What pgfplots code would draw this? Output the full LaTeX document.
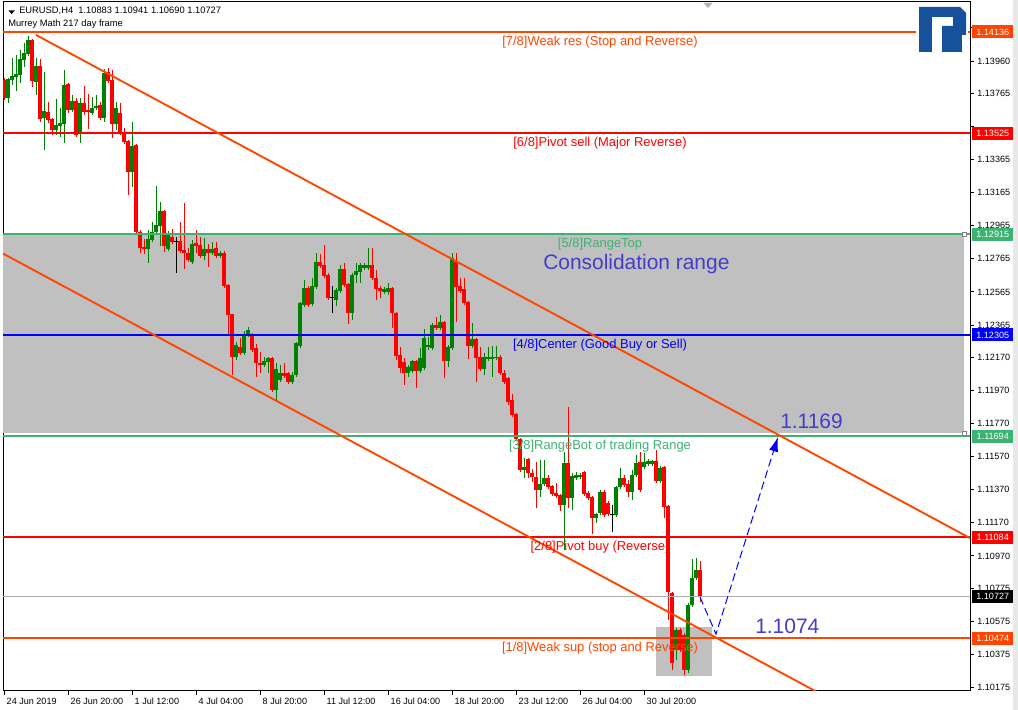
\documentclass[border=0pt]{standalone}
\usepackage{pgfplots}
\usepackage{pgfplotstable}
\pgfplotsset{compat=1.18}
\usepackage{fontspec}
\setmainfont{Liberation Sans}
\usetikzlibrary{arrows.meta}

\definecolor{orr}{RGB}{255,69,0}
\definecolor{mred}{RGB}{255,0,0}
\definecolor{mgreen}{RGB}{60,179,113}
\definecolor{mblue}{RGB}{0,0,255}
\definecolor{bull}{RGB}{0,128,0}
\definecolor{rng}{RGB}{192,192,192}
\definecolor{note}{RGB}{70,60,200}
\definecolor{logo}{RGB}{22,82,155}

\pgfplotstableread{
x o h l c k
0 1.13846 1.13858 1.13725 1.13737 -1
1 1.13737 1.13858 1.13707 1.13852 1
2 1.13846 1.13979 1.13816 1.13870 1
3 1.13864 1.13997 1.13780 1.13882 1
4 1.13876 1.14027 1.13828 1.13973 1
5 1.13967 1.14070 1.13925 1.14009 1
6 1.14003 1.14112 1.13991 1.14088 1
7 1.14088 1.14094 1.13804 1.13840 -1
8 1.13834 1.13979 1.13755 1.13931 1
9 1.13931 1.13973 1.13592 1.13610 -1
10 1.13616 1.13894 1.13423 1.13659 1
11 1.13653 1.13713 1.13586 1.13604 -1
12 1.13610 1.13616 1.13514 1.13544 -1
13 1.13544 1.13731 1.13514 1.13574 1
14 1.13568 1.13677 1.13502 1.13586 1
15 1.13580 1.13906 1.13465 1.13816 1
16 1.13822 1.13828 1.13647 1.13665 -1
17 1.13665 1.13755 1.13653 1.13719 1
18 1.13719 1.13737 1.13502 1.13514 -1
19 1.13526 1.13737 1.13465 1.13707 1
20 1.13707 1.13810 1.13634 1.13653 -1
21 1.13665 1.13761 1.13550 1.13653 -1
22 1.13647 1.13743 1.13634 1.13677 1
23 1.13677 1.13755 1.13665 1.13689 1
24 1.13695 1.13713 1.13604 1.13616 -1
25 1.13616 1.13912 1.13592 1.13888 1
26 1.13894 1.13919 1.13828 1.13840 -1
27 1.13846 1.13906 1.13496 1.13580 -1
28 1.13580 1.13713 1.13544 1.13677 1
29 1.13647 1.13707 1.13514 1.13526 -1
30 1.13526 1.13556 1.13459 1.13471 -1
31 1.13477 1.13483 1.13151 1.13290 -1
32 1.13290 1.13592 1.13199 1.13447 1
33 1.13453 1.13459 1.12915 1.12927 -1
34 1.12927 1.12940 1.12800 1.12831 -1
35 1.12837 1.12885 1.12794 1.12825 -1
36 1.12825 1.12940 1.12740 1.12885 1
37 1.12879 1.12988 1.12867 1.12927 1
38 1.12927 1.13205 1.12915 1.12970 1
39 1.12964 1.13109 1.12843 1.13054 1
40 1.13054 1.13060 1.12807 1.12843 -1
41 1.12825 1.12934 1.12813 1.12915 1
42 1.12897 1.12946 1.12855 1.12867 -1
43 1.12873 1.12897 1.12680 1.12867 0
44 1.12873 1.12988 1.12800 1.12813 -1
45 1.12819 1.13103 1.12704 1.12800 -1
46 1.12800 1.12831 1.12746 1.12758 -1
47 1.12746 1.12879 1.12734 1.12855 1
48 1.12861 1.12940 1.12800 1.12843 -1
49 1.12849 1.12897 1.12770 1.12782 -1
50 1.12782 1.12891 1.12758 1.12825 1
51 1.12825 1.12855 1.12716 1.12800 -1
52 1.12800 1.12867 1.12788 1.12825 1
53 1.12831 1.12867 1.12770 1.12782 -1
54 1.12782 1.12813 1.12770 1.12800 1
55 1.12800 1.12813 1.12589 1.12601 -1
56 1.12607 1.12613 1.12311 1.12426 -1
57 1.12432 1.12432 1.12063 1.12172 -1
58 1.12172 1.12263 1.12154 1.12245 1
59 1.12233 1.12287 1.12184 1.12196 -1
60 1.12196 1.12329 1.12184 1.12305 1
61 1.12305 1.12353 1.12293 1.12335 1
62 1.12305 1.12317 1.12202 1.12214 -1
63 1.12226 1.12251 1.12051 1.12136 -1
64 1.12136 1.12202 1.12075 1.12124 -1
65 1.12124 1.12172 1.12112 1.12148 1
66 1.12142 1.12172 1.12075 1.12166 1
67 1.12166 1.12172 1.11961 1.11973 -1
68 1.11973 1.12136 1.11912 1.12100 1
69 1.12033 1.12124 1.12021 1.12075 1
70 1.12075 1.12136 1.12045 1.12057 -1
71 1.12075 1.12081 1.12009 1.12021 -1
72 1.12021 1.12081 1.12009 1.12063 1
73 1.12063 1.12263 1.12051 1.12257 1
74 1.12239 1.12504 1.12226 1.12498 1
75 1.12486 1.12637 1.12474 1.12589 1
76 1.12589 1.12601 1.12474 1.12486 -1
77 1.12492 1.12649 1.12480 1.12601 1
78 1.12595 1.12800 1.12583 1.12746 1
79 1.12746 1.12794 1.12710 1.12722 -1
80 1.12728 1.12849 1.12649 1.12662 -1
81 1.12668 1.12680 1.12517 1.12529 -1
82 1.12535 1.12601 1.12438 1.12529 0
83 1.12517 1.12589 1.12480 1.12577 1
84 1.12571 1.12728 1.12559 1.12704 1
85 1.12704 1.12740 1.12595 1.12607 -1
86 1.12613 1.12619 1.12372 1.12438 -1
87 1.12438 1.12680 1.12396 1.12668 1
88 1.12668 1.12740 1.12619 1.12692 1
89 1.12686 1.12740 1.12619 1.12728 1
90 1.12710 1.12740 1.12698 1.12728 1
91 1.12710 1.12831 1.12698 1.12728 1
92 1.12728 1.12831 1.12637 1.12649 -1
93 1.12649 1.12698 1.12517 1.12583 -1
94 1.12589 1.12601 1.12529 1.12571 -1
95 1.12565 1.12595 1.12553 1.12583 1
96 1.12565 1.12619 1.12547 1.12589 1
97 1.12589 1.12595 1.12347 1.12438 -1
98 1.12438 1.12444 1.12154 1.12178 -1
99 1.12184 1.12233 1.12075 1.12106 -1
100 1.12142 1.12166 1.12003 1.12075 -1
101 1.12075 1.12124 1.12051 1.12112 1
102 1.12087 1.12154 1.12075 1.12148 1
103 1.12148 1.12154 1.11985 1.12087 -1
104 1.12087 1.12226 1.12075 1.12166 1
105 1.12106 1.12341 1.12094 1.12287 1
106 1.12233 1.12293 1.12214 1.12245 1
107 1.12226 1.12378 1.12214 1.12365 1
108 1.12365 1.12414 1.12335 1.12347 -1
109 1.12347 1.12426 1.12335 1.12384 1
110 1.12384 1.12390 1.12045 1.12148 -1
111 1.12148 1.12245 1.12112 1.12233 1
112 1.12226 1.12800 1.12214 1.12770 1
113 1.12746 1.12800 1.12384 1.12595 -1
114 1.12601 1.12649 1.12559 1.12571 -1
115 1.12583 1.12649 1.12486 1.12498 -1
116 1.12504 1.12510 1.12160 1.12239 -1
117 1.12239 1.12378 1.12226 1.12281 1
118 1.12281 1.12287 1.12021 1.12166 -1
119 1.12172 1.12233 1.12087 1.12100 -1
120 1.12100 1.12196 1.12063 1.12172 1
121 1.12160 1.12233 1.12148 1.12172 1
122 1.12160 1.12239 1.12051 1.12172 1
123 1.12166 1.12239 1.12154 1.12172 1
124 1.12172 1.12184 1.12063 1.12075 -1
125 1.12075 1.12094 1.12009 1.12021 -1
126 1.12045 1.12051 1.11882 1.11900 -1
127 1.11912 1.11948 1.11810 1.11822 -1
128 1.11828 1.11834 1.11664 1.11677 -1
129 1.11677 1.11683 1.11477 1.11489 -1
130 1.11489 1.11562 1.11441 1.11507 1
131 1.11556 1.11562 1.11441 1.11471 -1
132 1.11471 1.11495 1.11417 1.11447 -1
133 1.11447 1.11538 1.11260 1.11368 -1
134 1.11368 1.11550 1.11326 1.11405 1
135 1.11405 1.11550 1.11392 1.11441 1
136 1.11441 1.11459 1.11374 1.11386 -1
137 1.11392 1.11399 1.11332 1.11344 -1
138 1.11350 1.11411 1.11320 1.11332 -1
139 1.11338 1.11344 1.11241 1.11278 -1
140 1.11278 1.11598 1.11006 1.11532 1
141 1.11532 1.11870 1.11260 1.11320 -1
142 1.11320 1.11471 1.11248 1.11453 1
143 1.11441 1.11477 1.11429 1.11459 1
144 1.11447 1.11471 1.11435 1.11459 1
145 1.11477 1.11483 1.11332 1.11344 -1
146 1.11350 1.11362 1.11308 1.11320 -1
147 1.11326 1.11332 1.11102 1.11199 -1
148 1.11199 1.11229 1.11169 1.11223 1
149 1.11229 1.11368 1.11217 1.11356 1
150 1.11356 1.11368 1.11205 1.11217 -1
151 1.11290 1.11302 1.11211 1.11223 -1
152 1.11223 1.11278 1.11115 1.11217 0
153 1.11217 1.11392 1.11205 1.11386 1
154 1.11386 1.11501 1.11374 1.11441 1
155 1.11441 1.11459 1.11386 1.11399 -1
156 1.11405 1.11429 1.11326 1.11356 -1
157 1.11356 1.11489 1.11308 1.11459 1
158 1.11459 1.11580 1.11447 1.11532 1
159 1.11538 1.11598 1.11356 1.11368 -1
160 1.11507 1.11592 1.11495 1.11538 1
161 1.11525 1.11556 1.11513 1.11544 1
162 1.11525 1.11550 1.11513 1.11544 1
163 1.11544 1.11610 1.11411 1.11423 -1
164 1.11423 1.11513 1.11411 1.11501 1
165 1.11507 1.11513 1.11199 1.11266 -1
166 1.11272 1.11278 1.10583 1.10752 -1
167 1.10746 1.10752 1.10281 1.10323 -1
168 1.10402 1.10534 1.10341 1.10522 1
169 1.10522 1.10534 1.10389 1.10402 -1
170 1.10492 1.10504 1.10250 1.10281 -1
171 1.10281 1.10685 1.10262 1.10673 1
172 1.10673 1.10951 1.10661 1.10836 1
173 1.10836 1.10958 1.10824 1.10885 1
174 1.10883 1.10941 1.10690 1.10727 -1
}\candles

\pgfplotsset{
  candle/.style 2 args={draw=none, mark=none, forget plot,
    restrict y to domain=1:2,
    error bars/.cd, y dir=plus, y explicit, error mark=none,
    error bar style={draw=#1, solid, line width=#2, line cap=butt}},
}

\newcommand{\lvltext}[3]{\node[anchor=base, text=#1, font=\fontsize{9.7}{11}\selectfont, inner sep=0pt] at ([yshift=-10.2pt]axis cs:149,#2) {#3};}

\begin{document}
\begin{tikzpicture}
\begin{axis}[
  name=ax,
  scale only axis,
  width=725.25pt, height=516.75pt,
  xmin=-0.25, xmax=241.5, ymin=1.10154, ymax=1.14317,
  axis line style={black, line width=0.75pt},
  xtick={0,16,32,48,64,80,96,112,128,144,160},
  xticklabels={24 Jun 2019, 26 Jun 20:00, 1 Jul 12:00, 4 Jul 04:00, 8 Jul 20:00, 11 Jul 12:00, 16 Jul 04:00, 18 Jul 20:00, 23 Jul 12:00, 26 Jul 04:00, 30 Jul 20:00},
  ytick={1.14165,1.13960,1.13765,1.13565,1.13365,1.13165,1.12965,1.12765,1.12565,1.12365,1.12170,1.11970,1.11770,1.11570,1.11370,1.11170,1.10970,1.10775,1.10575,1.10375,1.10175},
  yticklabels={{},1.13960,1.13765,{},1.13365,1.13165,1.12965,1.12765,1.12565,1.12365,1.12170,1.11970,1.11770,1.11570,1.11370,1.11170,1.10970,1.10775,1.10575,1.10375,1.10175},
  xtick pos=bottom, ytick pos=right, yticklabel pos=right,
  tick align=outside,
  major tick length=3pt,
  tick style={black, line width=0.75pt},
  ticklabel style={font=\fontsize{6.8}{8}\selectfont},
  xticklabel style={anchor=north west, xshift=-1.5pt, yshift=1pt},
  yticklabel style={anchor=west, xshift=-1pt},
  clip=true,
]
% background rectangles
\fill[rng] (axis cs:-1,1.11713) rectangle (axis cs:240,1.12915);
\fill[rng] (axis cs:163,1.10244) rectangle (axis cs:177,1.10540);

% candles: wicks
\addplot[candle={bull}{0.75pt}] table[x=x, y expr={\thisrow{k}>0 ? \thisrow{l} : 0}, y error plus expr={\thisrow{h}-\thisrow{l}}]{\candles};
\addplot[candle={mred}{0.75pt}] table[x=x, y expr={\thisrow{k}<0 ? \thisrow{l} : 0}, y error plus expr={\thisrow{h}-\thisrow{l}}]{\candles};
\addplot[candle={black}{0.75pt}] table[x=x, y expr={\thisrow{k}==0 ? \thisrow{l} : 0}, y error plus expr={\thisrow{h}-\thisrow{l}}]{\candles};
% candles: bodies
\addplot[candle={bull}{2.4pt}] table[x=x, y expr={\thisrow{k}>0 ? \thisrow{o} : 0}, y error plus expr={\thisrow{c}-\thisrow{o}}]{\candles};
\addplot[candle={mred}{2.4pt}] table[x=x, y expr={\thisrow{k}<0 ? \thisrow{c} : 0}, y error plus expr={\thisrow{o}-\thisrow{c}}]{\candles};
\addplot[candle={black}{2.4pt}] table[x=x, y expr={\thisrow{k}==0 ? \thisrow{c} : 0}, y error plus expr={\thisrow{o}-\thisrow{c}}]{\candles};

% current price line
\addplot[rng!90!black, line width=0.6pt, forget plot] coordinates {(-1,1.10727) (243,1.10727)};
% Murrey levels
\addplot[orr, line width=1.5pt, forget plot] coordinates {(-1,1.14136) (243,1.14136)};
\addplot[mred, line width=1.5pt, forget plot] coordinates {(-1,1.13525) (243,1.13525)};
\addplot[mgreen, line width=1.5pt, forget plot] coordinates {(-1,1.12915) (243,1.12915)};
\addplot[mblue, line width=1.5pt, forget plot] coordinates {(-1,1.12305) (243,1.12305)};
\addplot[mgreen, line width=1.5pt, forget plot] coordinates {(-1,1.11694) (243,1.11694)};
\addplot[mred, line width=1.5pt, forget plot] coordinates {(-1,1.11084) (243,1.11084)};
\addplot[orr, line width=1.5pt, forget plot] coordinates {(-1,1.10474) (243,1.10474)};
% channel
\addplot[orr, line width=1.4pt, forget plot] coordinates {(8,1.14118) (241.5,1.11078)};
\addplot[orr, line width=1.4pt, forget plot] coordinates {(-0.25,1.12797) (241.5,1.09650)};

% level texts
\lvltext{orr}{1.14136}{[7/8]Weak res (Stop and Reverse)}
\lvltext{mred}{1.13525}{[6/8]Pivot sell (Major Reverse)}
\lvltext{mgreen}{1.12915}{[5/8]RangeTop}
\lvltext{mblue}{1.12305}{[4/8]Center (Good Buy or Sell)}
\lvltext{mgreen}{1.11694}{[3/8]RangeBot of trading Range}
\lvltext{mred}{1.11084}{[2/8]Pivot buy (Reverse)}
\lvltext{orr}{1.10474}{[1/8]Weak sup (stop and Reverse)}

% annotations
\node[anchor=base west, text=note, font=\fontsize{15.7}{18}\selectfont, inner sep=0pt] at (axis cs:134.75,1.12698) {Consolidation range};
\node[anchor=base west, text=note, font=\fontsize{15.7}{18}\selectfont, inner sep=0pt] at (axis cs:194,1.11743) {1.1169};
\node[anchor=base west, text=note, font=\fontsize{15.7}{18}\selectfont, inner sep=0pt] at (axis cs:187.75,1.10504) {1.1074};

% forecast arrow
\draw[mblue, line width=0.75pt, dash pattern=on 6pt off 3pt, -{Latex[length=11pt, width=7pt]}]
  (axis cs:174,1.10722) -- (axis cs:178,1.10498) -- (axis cs:193.5,1.11689);

% rectangle handles
\draw[gray, fill=white, line width=0.4pt] ([xshift=-1.5pt,yshift=-1.5pt]axis cs:240,1.12915) rectangle ++(3pt,3pt);
\draw[gray, fill=white, line width=0.4pt] ([xshift=-1.5pt,yshift=-1.5pt]axis cs:240,1.11713) rectangle ++(3pt,3pt);

% coordinates for price boxes
\coordinate (B1) at (axis cs:241.5,1.14136);
\coordinate (B2) at (axis cs:241.5,1.13525);
\coordinate (B3) at (axis cs:241.5,1.12915);
\coordinate (B4) at (axis cs:241.5,1.12305);
\coordinate (B5) at (axis cs:241.5,1.11694);
\coordinate (B6) at (axis cs:241.5,1.11084);
\coordinate (B7) at (axis cs:241.5,1.10727);
\coordinate (B8) at (axis cs:241.5,1.10474);
\coordinate (TRI) at (axis cs:176,1.14317);
\end{axis}

% price boxes on the right scale
\tikzset{pbox/.style={anchor=west, fill=#1, text=white, inner sep=0pt, minimum width=30.75pt, minimum height=9.75pt, font=\fontsize{6.8}{8}\selectfont}}
\node[pbox=orr] at ([xshift=1.5pt]B1) {1.14136};
\node[pbox=mred] at ([xshift=1.5pt]B2) {1.13525};
\node[pbox=mgreen] at ([xshift=1.5pt]B3) {1.12915};
\node[pbox=mblue] at ([xshift=1.5pt]B4) {1.12305};
\node[pbox=mgreen] at ([xshift=1.5pt]B5) {1.11694};
\node[pbox=mred] at ([xshift=1.5pt]B6) {1.11084};
\node[pbox=black] at ([xshift=1.5pt]B7) {1.10727};
\node[pbox=orr] at ([xshift=1.5pt]B8) {1.10474};

% top shift marker
\fill[gray!60] ([xshift=-3.5pt,yshift=-0.6pt]TRI) -- ([xshift=3.5pt,yshift=-0.6pt]TRI) -- ([yshift=-4.5pt]TRI) -- cycle;

% header
\fill[black] ([xshift=4pt,yshift=-6.2pt]ax.north west) -- ([xshift=9pt,yshift=-6.2pt]ax.north west) -- ([xshift=6.5pt,yshift=-9pt]ax.north west) -- cycle;
\node[anchor=base west, inner sep=0pt, font=\fontsize{7}{8}\selectfont] at ([xshift=12pt,yshift=-9pt]ax.north west) {EURUSD,H4\ \ 1.10883 1.10941 1.10690 1.10727};
\node[anchor=base west, inner sep=0pt, font=\fontsize{7}{8}\selectfont] at ([xshift=3.75pt,yshift=-18.75pt]ax.north west) {Murrey Math 217 day frame};

% logo (relative to upper right corner of the chart frame)
\begin{scope}[shift={(ax.north east)}, x=0.75pt, y=-0.75pt]
  \fill[white] (-54,2) rectangle (-2,52);
  \fill[logo] (-51,5) rectangle (-38,50);
  \fill[logo] (-51,5) -- (-10,5) -- (-4,11) -- (-4,33) -- (-28,33) -- (-28,24) -- (-17,24) -- (-17,15) -- (-51,15) -- cycle;
  \fill[logo] (-28,33) rectangle (-8,50);
\end{scope}

% right strip
\fill[gray!18] ([xshift=32.5pt,yshift=1.5pt]ax.north east) rectangle ([xshift=36pt,yshift=-14.25pt]ax.south east);

\path[use as bounding box] ([xshift=-2.25pt,yshift=-14.25pt]ax.south west) rectangle ([xshift=36pt,yshift=1.5pt]ax.north east);
\end{tikzpicture}
\end{document}
